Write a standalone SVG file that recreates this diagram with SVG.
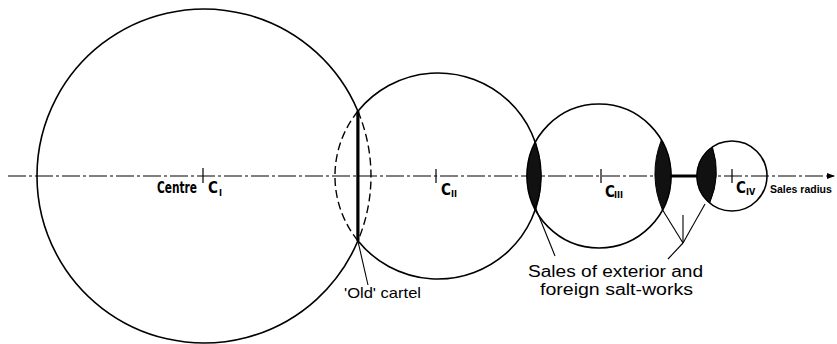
<svg xmlns="http://www.w3.org/2000/svg" width="837" height="344" viewBox="0 0 837 344">
<style>
.c{fill:none;stroke:#000;stroke-width:1.6}
.d{fill:none;stroke:#000;stroke-width:1.4;stroke-dasharray:8 4}
.ax{fill:none;stroke:#000;stroke-width:1.2;stroke-dasharray:18 3 3 3}
.tk{stroke:#000;stroke-width:1.2}
.p{fill:none;stroke:#000;stroke-width:1.1}
.sh{fill:#111;stroke:#000;stroke-width:1}
.lb{font-family:"Liberation Sans Narrow","DejaVu Sans Condensed","Liberation Sans",sans-serif;font-weight:bold;fill:#000}
.tx{font-family:"Liberation Sans",Arial,sans-serif;fill:#000}
</style>
<defs>
<marker id="ah" markerWidth="8" markerHeight="6" refX="7" refY="3" orient="auto" markerUnits="userSpaceOnUse">
<path d="M0,0 L8,3 L0,6 Z" fill="#000"/>
</marker>
</defs>
<g id="axis">
<line class="ax" x1="8" y1="176" x2="671" y2="176"/>
<line x1="671" y1="176" x2="697" y2="176" stroke="#000" stroke-width="3"/>
<line class="ax" x1="697" y1="176" x2="834" y2="176" marker-end="url(#ah)"/>
<text x="770" y="193" font-family="'Liberation Sans',Arial,sans-serif" font-weight="bold" font-size="10.5">Sales radius</text>
</g>
<g id="circle1">
<path class="c" d="M357.9,111.2 A167,167 0 1,0 357.9,240.8"/>
<path class="d" d="M357.9,111.2 A167,167 0 0,1 357.9,240.8"/>
<line class="tk" x1="203" y1="168" x2="203" y2="183"/>
<text class="lb" x="157" y="193" font-size="15" textLength="40" lengthAdjust="spacingAndGlyphs">Centre</text>
<text class="lb" x="208" y="193" font-size="15">C</text>
<text class="lb" x="219" y="196" font-size="9">I</text>
</g>
<g id="circle2">
<path class="c" d="M357.9,111.2 A103,103 0 1,1 357.9,240.8"/>
<path class="d" d="M357.9,111.2 A103,103 0 0,0 357.9,240.8"/>
<line x1="357.9" y1="111.2" x2="357.9" y2="240.8" stroke="#000" stroke-width="3.2"/>
<line class="tk" x1="436" y1="169" x2="436" y2="183"/>
<text class="lb" x="441" y="195" font-size="15">C</text>
<text class="lb" x="451" y="197" font-size="9">II</text>
</g>
<g id="circle3">
<circle class="c" cx="599" cy="176" r="72"/>
<line class="tk" x1="601" y1="169" x2="601" y2="183"/>
<text class="lb" x="605" y="197" font-size="15">C</text>
<text class="lb" x="614" y="198" font-size="9">III</text>
</g>
<g id="circle4">
<circle class="c" cx="732" cy="176" r="35"/>
<line class="tk" x1="732" y1="169" x2="732" y2="183"/>
<text class="lb" x="736" y="193" font-size="15">C</text>
<text class="lb" x="746" y="195" font-size="9">IV</text>
</g>
<g id="shading">
<path class="sh" d="M535.35,142.4 A103,103 0 0,1 535.35,209.6 A72,72 0 0,1 535.35,142.4 Z"/>
<path class="sh" d="M661.4,140 A91,91 0 0,0 662.5,210 A72,72 0 0,0 661.4,140 Z"/>
<path class="sh" d="M712.4,147 A80,80 0 0,1 709.7,203 A35,35 0 0,1 712.4,147 Z"/>
</g>
<g id="pointers">
<line class="p" x1="357.9" y1="241" x2="368" y2="285"/>
<line class="p" x1="534" y1="204" x2="555" y2="256"/>
<line class="p" x1="662" y1="209" x2="683" y2="243"/>
<line class="p" x1="705" y1="204" x2="683" y2="243"/>
<line class="p" x1="683" y1="215" x2="683" y2="243"/>
<line class="p" x1="683" y1="243" x2="668" y2="259"/>
</g>
<g id="label-old">
<text class="tx" x="344" y="298" font-size="15" textLength="77" lengthAdjust="spacingAndGlyphs">'Old' cartel</text>
</g>
<g id="label-sales">
<text class="tx" x="528" y="277" font-size="16" textLength="175" lengthAdjust="spacingAndGlyphs">Sales of exterior and</text>
<text class="tx" x="540" y="295" font-size="16" textLength="153" lengthAdjust="spacingAndGlyphs">foreign salt-works</text>
</g>
</svg>
